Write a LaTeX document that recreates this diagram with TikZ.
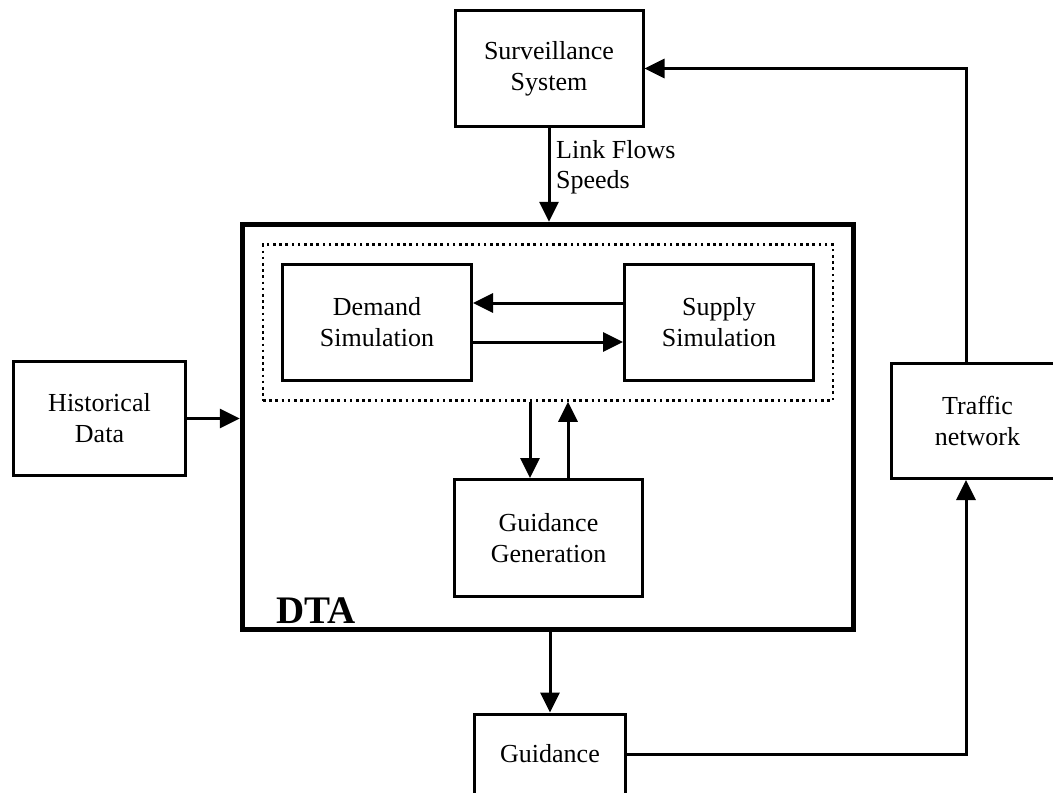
\documentclass[tikz,border=0pt]{standalone}
\usepackage{fontspec}
\setmainfont{Liberation Serif}
\usetikzlibrary{arrows.meta}
\begin{document}
\begin{tikzpicture}[x=1pt,y=-1pt,
  box/.style={draw, line width=3pt, inner sep=0pt, align=center,
    font=\fontsize{26}{31}\selectfont},
  arr/.style={line width=3pt, -{Triangle[length=20pt,width=19pt]}},
  dtabox/.style={draw, line width=5.5pt, inner sep=0pt},
  dotbox/.style={draw, line width=2.6pt, dash pattern=on 2.6pt off 3.6pt, inner sep=0pt}]
\useasboundingbox (0,0) rectangle (1053,793);
\clip (0,0) rectangle (1053,793);
\fill[white] (0,0) rectangle (1053,793);
% main DTA frame and dotted group
\node[dtabox, minimum width=611pt, minimum height=405pt] (dta) at (548,427) {};
\node[dotbox, minimum width=570pt, minimum height=156pt] (grp) at (548,322.5) {};
% boxes
\node[box, minimum width=188pt, minimum height=116pt] (surv) at (549,68.5) {Surveillance\\System};
\node[box, minimum width=172pt, minimum height=114pt] (hist) at (99.5,418.5) {Historical\\Data};
\node[box, minimum width=189pt, minimum height=116pt] (dem) at (377,322.5) {Demand\\Simulation};
\node[box, minimum width=189pt, minimum height=116pt] (sup) at (719,322.5) {Supply\\Simulation};
\node[box, minimum width=188pt, minimum height=117pt] (gg) at (548.5,538) {Guidance\\Generation};
\node[box, minimum width=172pt, minimum height=115pt] (tn) at (977.5,421) {Traffic\\network};
\node[box, minimum width=151pt, minimum height=80pt] (guid) at (550,754) {Guidance};
% labels
\node[anchor=west, align=left, inner sep=0pt, font=\fontsize{26}{30}\selectfont] (lf) at (556,167) {Link Flows\\Speeds};
\node[anchor=base west, inner sep=0pt, font=\fontsize{39}{44}\selectfont\bfseries] (dtalbl) at (276,623) {DTA};
% helper coordinates
\coordinate (colx) at (966,0);
\coordinate (g1) at ([xshift=-18.5pt]gg.north);
\coordinate (g2) at ([xshift=19.5pt]gg.north);
% connectors
\draw[arr] (surv.south) -- (surv.south |- dta.north);
\draw[arr] (guid.north |- dta.south) -- (guid.north);
\draw[arr] (hist.east) -- (hist.east -| dta.west);
\draw[arr] ([yshift=19.5pt]sup.west) -- ([yshift=19.5pt]dem.east);
\draw[arr] ([yshift=-19.5pt]dem.east) -- ([yshift=-19.5pt]sup.west);
\draw[arr] (g1 |- grp.south) -- (g1);
\draw[arr] (g2) -- (g2 |- grp.south);
\draw[arr] (tn.north -| colx) |- (surv.east);
\draw[arr] (guid.east) -| (tn.south -| colx);
\end{tikzpicture}
\end{document}
